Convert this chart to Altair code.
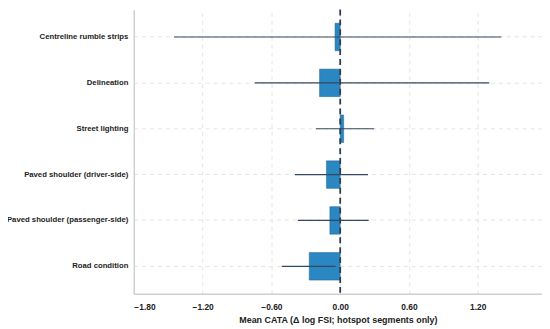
import altair as alt
import pandas as pd

categories = ["Centreline rumble strips", "Delineation", "Street lighting",
              "Paved shoulder (driver-side)", "Paved shoulder (passenger-side)", "Road condition"]
means = [-0.045, -0.18, 0.03, -0.12, -0.09, -0.27]
lows = [-1.45, -0.745, -0.213, -0.395, -0.37, -0.51]
highs = [1.405, 1.30, 0.296, 0.242, 0.248, -0.04]
tick_values = [-1.8, -1.2, -0.6, 0.0, 0.6, 1.2]

df = pd.DataFrame({"cat": categories, "mean": means, "lo": lows, "hi": highs, "zero": [0.0] * 6})

FONT = "Liberation Sans"
xscale = alt.Scale(domain=[-1.8, 1.76], nice=False, zero=False)
yscale = alt.Scale(domain=categories, paddingInner=0.4, paddingOuter=0.3)

x_axis = alt.Axis(values=tick_values, format=".2f", title="Mean CATA (Δ log FSI; hotspot segments only)",
                  grid=True, gridDash=[4, 4], gridColor="#dddddd", gridWidth=0.8,
                  ticks=False, domainColor="#d0d0d0", domainWidth=1.5,
                  labelFont=FONT, labelFontSize=8.5, labelFontWeight="bold", labelColor="#222222",
                  labelPadding=9,
                  titleFont=FONT, titleFontSize=9, titleFontWeight="bold", titleColor="#222222",
                  titlePadding=4)
y_axis = alt.Axis(title=None, grid=True, gridDash=[4, 4], gridColor="#dddddd", gridWidth=0.8,
                  ticks=False, domainColor="#d0d0d0", domainWidth=1.5,
                  labelFont=FONT, labelFontSize=7.8, labelFontWeight="bold", labelColor="#222222",
                  labelPadding=6)

base = alt.Chart(df)

bars = base.mark_bar(color="#2b87c1", stroke="#1d5f8a", strokeWidth=0.5).encode(
    y=alt.Y("cat:N", scale=yscale, axis=y_axis, sort=categories),
    x=alt.X("zero:Q", scale=xscale, axis=x_axis),
    x2="mean:Q",
)

errs = base.mark_rule(color="#34495e", strokeWidth=1.2).encode(
    y=alt.Y("cat:N", scale=yscale, sort=categories),
    x=alt.X("lo:Q", scale=xscale),
    x2="hi:Q",
)

zero_line = alt.Chart(pd.DataFrame({"z": [0.0]})).mark_rule(
    color="#2c3e50", strokeWidth=1.8, strokeDash=[6, 4]
).encode(x=alt.X("z:Q", scale=xscale))

chart = alt.layer(bars, errs, zero_line).properties(
    width=412, height=287,
    autosize=alt.AutoSizeParams(type="none"),
    padding={"left": 127, "top": 0, "right": 0, "bottom": 34},
).configure_view(stroke=None)

chart.save("out.html", embed_options={"renderer": "svg", "actions": False})
